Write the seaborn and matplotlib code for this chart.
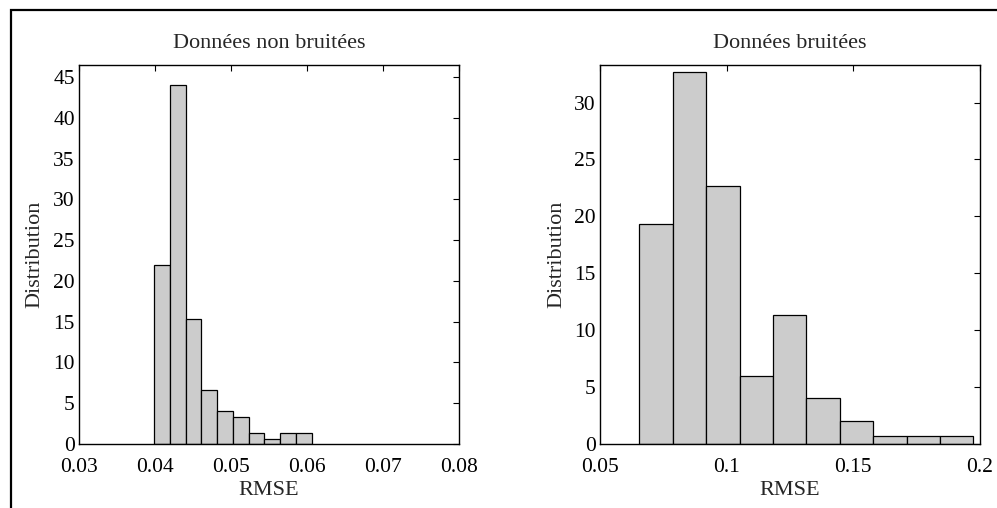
import matplotlib
matplotlib.use('Agg')
import matplotlib.pyplot as plt
import matplotlib.patches as patches
import seaborn as sns
import numpy as np
import pandas as pd

# histogramme - donnees non bruitees (pourcentages)
edges_nb = np.linspace(0.0399, 0.0606, 11)
pct_nb = [22.0, 44.0, 15.33, 6.67, 4.0, 3.33, 1.33, 0.67, 1.33, 1.33]

# histogramme - donnees bruitees
edges_b = np.linspace(0.0655, 0.1974, 11)
pct_b = [19.33, 32.67, 22.67, 6.0, 11.33, 4.0, 2.0, 0.67, 0.67, 0.67]

xticks_nb = [0.03, 0.04, 0.05, 0.06, 0.07, 0.08]
xlabels_nb = ['0.03', '0.04', '0.05', '0.06', '0.07', '0.08']
yticks_nb = [0, 5, 10, 15, 20, 25, 30, 35, 40, 45]

xticks_b = [0.05, 0.1, 0.15, 0.2]
xlabels_b = ['0.05', '0.1', '0.15', '0.2']
yticks_b = [0, 5, 10, 15, 20, 25, 30]

sns.set_style('white')
plt.rcParams['font.family'] = ['Liberation Serif', 'DejaVu Serif']

fig = plt.figure(figsize=(9.97, 5.08), dpi=100)
ax1 = fig.add_axes([79/997, 1-444/508, 380/997, 379/508])
ax2 = fig.add_axes([600/997, 1-444/508, 380/997, 379/508])


def draw(ax, edges, pct, xlim, ylim, xt, xl, yt, title):
    df = pd.DataFrame({'rmse': (edges[:-1] + edges[1:]) / 2, 'pct': pct})
    sns.histplot(data=df, x='rmse', weights='pct', bins=list(edges), ax=ax,
                 color='#cccccc', edgecolor='black', linewidth=0.9, alpha=1)
    ax.set_xlim(*xlim)
    ax.set_ylim(*ylim)
    ax.set_xticks(xt)
    ax.set_xticklabels(xl)
    ax.set_yticks(yt)
    ax.tick_params(direction='in', top=True, right=True, length=4,
                   width=0.8, labelsize=15.5, colors='black')
    ax.tick_params(axis='x', pad=10)
    ax.tick_params(axis='y', pad=3)
    ax.set_title(title, fontsize=16, pad=12)
    ax.set_xlabel('RMSE', fontsize=16, labelpad=3)
    ax.set_ylabel('Distribution', fontsize=16, labelpad=6)
    for s in ax.spines.values():
        s.set_color('black')
        s.set_linewidth(1.0)


draw(ax1, edges_nb, pct_nb, (0.03, 0.08), (0, 46.5), xticks_nb, xlabels_nb,
     yticks_nb, 'Données non bruitées')
draw(ax2, edges_b, pct_b, (0.05, 0.2), (0, 33.3), xticks_b, xlabels_b,
     yticks_b, 'Données bruitées')

# cadre autour de la figure
fig.add_artist(patches.Rectangle((11/997, -0.1), 1.2, 1.1 - 10/508,
                                 transform=fig.transFigure, fill=False,
                                 edgecolor='black', linewidth=1.6))

fig.savefig('out.png', dpi=100)
